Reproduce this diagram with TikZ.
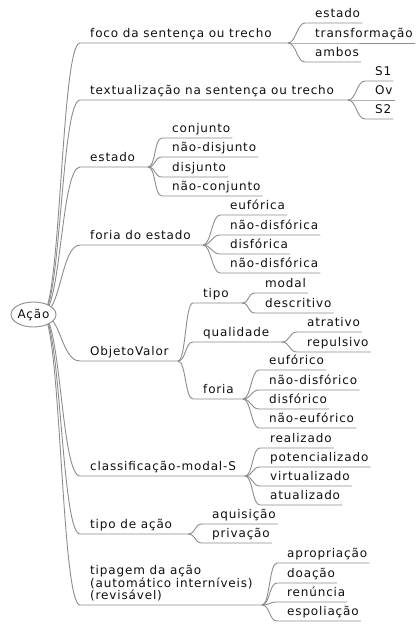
\documentclass[tikz,border=0pt]{standalone}
\usepackage{fontspec}
\usepackage{tikz}
\usetikzlibrary{shapes.geometric}
\newfontfamily\mapfont[LetterSpace=7]{DejaVu Sans}
\definecolor{mmline}{RGB}{140,140,140}
\definecolor{mmtext}{RGB}{15,15,15}
\tikzset{
  idea/.style={anchor=south west, inner xsep=2pt, inner ysep=0pt,
    text depth=5pt, align=left, text=mmtext,
    font=\mapfont\fontsize{12}{12.5}\selectfont},
  root/.style={ellipse, draw=mmline, fill=white, line width=0.9pt,
    minimum width=43pt, minimum height=25pt, inner sep=0pt, text=mmtext,
    font=\mapfont\fontsize{12}{12.5}\selectfont},
  line/.style={draw=mmline, line width=0.9pt},
  trunk/.style={out=0, in=180, distance=19pt},
  twig/.style={out=0, in=180, distance=8pt}
}

\begin{document}
\begin{tikzpicture}[x=1pt, y=-1pt]
  \useasboundingbox (0,0) rectangle (419,626);
  \coordinate (acao-out) at (42,314);

  % ── 1. foco da sentença ───────────────────────────────────────────────────
  \node[idea] (foco) at (88,43) {foco da sentença ou trecho};
  \coordinate (foco-fork) at (288,43);
  \draw[line] (acao-out) to[trunk] ([xshift=-8pt]foco.south west) -- (foco-fork);
  \node[idea] (foco-est) at (313,23) {estado};
  \node[idea] (foco-trans) at (313,43) {transformação};
  \node[idea] (foco-amb) at (313,62) {ambos};
  \draw[line] (foco-fork) to[twig] ([xshift=-8pt]foco-est.south west) -- (foco-est.south east);
  \draw[line] (foco-fork) to[twig] ([xshift=-8pt]foco-trans.south west) -- (foco-trans.south east);
  \draw[line] (foco-fork) to[twig] ([xshift=-8pt]foco-amb.south west) -- (foco-amb.south east);

  % ── 2. textualização ──────────────────────────────────────────────────────
  \node[idea] (text) at (88,100) {textualização na sentença ou trecho};
  \coordinate (text-fork) at (348,100);
  \draw[line] (acao-out) to[trunk] ([xshift=-8pt]text.south west) -- (text-fork);
  \node[idea] (text-s1) at (373,81) {S1};
  \node[idea] (text-ov) at (373,100) {Ov};
  \node[idea] (text-s2) at (373,119) {S2};
  \draw[line] (text-fork) to[twig] ([xshift=-8pt]text-s1.south west) -- (text-s1.south east);
  \draw[line] (text-fork) to[twig] ([xshift=-8pt]text-ov.south west) -- (text-ov.south east);
  \draw[line] (text-fork) to[twig] ([xshift=-8pt]text-s2.south west) -- (text-s2.south east);

  % ── 3. estado ─────────────────────────────────────────────────────────────
  \node[idea] (est) at (88,167) {estado};
  \coordinate (est-fork) at (148,167);
  \draw[line] (acao-out) to[trunk] ([xshift=-8pt]est.south west) -- (est-fork);
  \node[idea] (est-conj) at (170,138) {conjunto};
  \node[idea] (est-ndisj) at (170,157) {não-disjunto};
  \node[idea] (est-disj) at (170,177) {disjunto};
  \node[idea] (est-nconj) at (170,196) {não-conjunto};
  \draw[line] (est-fork) to[twig] ([xshift=-8pt]est-conj.south west) -- (est-conj.south east);
  \draw[line] (est-fork) to[twig] ([xshift=-8pt]est-ndisj.south west) -- (est-ndisj.south east);
  \draw[line] (est-fork) to[twig] ([xshift=-8pt]est-disj.south west) -- (est-disj.south east);
  \draw[line] (est-fork) to[twig] ([xshift=-8pt]est-nconj.south west) -- (est-nconj.south east);

  % ── 4. foria do estado ────────────────────────────────────────────────────
  \node[idea] (foria) at (88,245) {foria do estado};
  \coordinate (foria-fork) at (203,245);
  \draw[line] (acao-out) to[trunk] ([xshift=-8pt]foria.south west) -- (foria-fork);
  \node[idea] (foria-euf) at (228,215) {eufórica};
  \node[idea] (foria-ndisf) at (228,235) {não-disfórica};
  \node[idea] (foria-disf) at (228,254) {disfórica};
  \node[idea] (foria-ndisfb) at (228,273) {não-disfórica};
  \draw[line] (foria-fork) to[twig] ([xshift=-8pt]foria-euf.south west) -- (foria-euf.south east);
  \draw[line] (foria-fork) to[twig] ([xshift=-8pt]foria-ndisf.south west) -- (foria-ndisf.south east);
  \draw[line] (foria-fork) to[twig] ([xshift=-8pt]foria-disf.south west) -- (foria-disf.south east);
  \draw[line] (foria-fork) to[twig] ([xshift=-8pt]foria-ndisfb.south west) -- (foria-ndisfb.south east);

  % ── 5. ObjetoValor ────────────────────────────────────────────────────────
  \node[idea] (ov) at (88,361) {ObjetoValor};
  \coordinate (ov-fork) at (178,361);
  \draw[line] (acao-out) to[trunk] ([xshift=-8pt]ov.south west) -- (ov-fork);
  \node[idea] (ov-tipo) at (201,303) {tipo};
  \node[idea] (ov-qual) at (201,342) {qualidade};
  \node[idea] (ov-foria) at (201,399) {foria};
  \coordinate (tipo-fork) at (242,303);
  \coordinate (qual-fork) at (282,342);
  \coordinate (of-fork) at (243,399);
  \draw[line] (ov-fork) to[twig] ([xshift=-8pt]ov-tipo.south west) -- (tipo-fork);
  \draw[line] (ov-fork) to[twig] ([xshift=-8pt]ov-qual.south west) -- (qual-fork);
  \draw[line] (ov-fork) to[twig] ([xshift=-8pt]ov-foria.south west) -- (of-fork);
  % tipo
  \node[idea] (tipo-modal) at (263,293) {modal};
  \node[idea] (tipo-desc) at (263,313) {descritivo};
  \draw[line] (tipo-fork) to[twig] ([xshift=-8pt]tipo-modal.south west) -- (tipo-modal.south east);
  \draw[line] (tipo-fork) to[twig] ([xshift=-8pt]tipo-desc.south west) -- (tipo-desc.south east);
  % qualidade
  \node[idea] (qual-atr) at (305,332) {atrativo};
  \node[idea] (qual-rep) at (305,352) {repulsivo};
  \draw[line] (qual-fork) to[twig] ([xshift=-8pt]qual-atr.south west) -- (qual-atr.south east);
  \draw[line] (qual-fork) to[twig] ([xshift=-8pt]qual-rep.south west) -- (qual-rep.south east);
  % foria
  \node[idea] (of-euf) at (267,370) {eufórico};
  \node[idea] (of-ndisf) at (267,390) {não-disfórico};
  \node[idea] (of-disf) at (267,409) {disfórico};
  \node[idea] (of-neuf) at (267,428) {não-eufórico};
  \draw[line] (of-fork) to[twig] ([xshift=-8pt]of-euf.south west) -- (of-euf.south east);
  \draw[line] (of-fork) to[twig] ([xshift=-8pt]of-ndisf.south west) -- (of-ndisf.south east);
  \draw[line] (of-fork) to[twig] ([xshift=-8pt]of-disf.south west) -- (of-disf.south east);
  \draw[line] (of-fork) to[twig] ([xshift=-8pt]of-neuf.south west) -- (of-neuf.south east);

  % ── 6. classificação-modal-S ──────────────────────────────────────────────
  \node[idea] (cms) at (88,476) {classificação-modal-S};
  \coordinate (cms-fork) at (245,476);
  \draw[line] (acao-out) to[trunk] ([xshift=-8pt]cms.south west) -- (cms-fork);
  \node[idea] (cms-real) at (268,448) {realizado};
  \node[idea] (cms-pot) at (268,467) {potencializado};
  \node[idea] (cms-virt) at (268,486) {virtualizado};
  \node[idea] (cms-atu) at (268,505) {atualizado};
  \draw[line] (cms-fork) to[twig] ([xshift=-8pt]cms-real.south west) -- (cms-real.south east);
  \draw[line] (cms-fork) to[twig] ([xshift=-8pt]cms-pot.south west) -- (cms-pot.south east);
  \draw[line] (cms-fork) to[twig] ([xshift=-8pt]cms-virt.south west) -- (cms-virt.south east);
  \draw[line] (cms-fork) to[twig] ([xshift=-8pt]cms-atu.south west) -- (cms-atu.south east);

  % ── 7. tipo de ação ───────────────────────────────────────────────────────
  \node[idea] (tacao) at (88,534) {tipo de ação};
  \coordinate (tacao-fork) at (188,534);
  \draw[line] (acao-out) to[trunk] ([xshift=-8pt]tacao.south west) -- (tacao-fork);
  \node[idea] (tacao-aq) at (210,524) {aquisição};
  \node[idea] (tacao-priv) at (210,543) {privação};
  \draw[line] (tacao-fork) to[twig] ([xshift=-8pt]tacao-aq.south west) -- (tacao-aq.south east);
  \draw[line] (tacao-fork) to[twig] ([xshift=-8pt]tacao-priv.south west) -- (tacao-priv.south east);

  % ── 8. tipagem da ação ────────────────────────────────────────────────────
  \node[idea] (tip) at (88,605) {tipagem da ação\\(automático interníveis)\\(revisável)};
  \coordinate (tip-fork) at (262,605);
  \draw[line] (acao-out) to[trunk] ([xshift=-8pt]tip.south west) -- (tip-fork);
  \node[idea] (tip-apr) at (285,563) {apropriação};
  \node[idea] (tip-doa) at (285,583) {doação};
  \node[idea] (tip-ren) at (285,602) {renúncia};
  \node[idea] (tip-esp) at (285,621) {espoliação};
  \draw[line] (tip-fork) to[twig] ([xshift=-8pt]tip-apr.south west) -- (tip-apr.south east);
  \draw[line] (tip-fork) to[twig] ([xshift=-8pt]tip-doa.south west) -- (tip-doa.south east);
  \draw[line] (tip-fork) to[twig] ([xshift=-8pt]tip-ren.south west) -- (tip-ren.south east);
  \draw[line] (tip-fork) to[twig] ([xshift=-8pt]tip-esp.south west) -- (tip-esp.south east);

  % ── root on top of the branches ───────────────────────────────────────────
  \node[root] (acao) at (33.5,314.5) {Ação};
\end{tikzpicture}
\end{document}
